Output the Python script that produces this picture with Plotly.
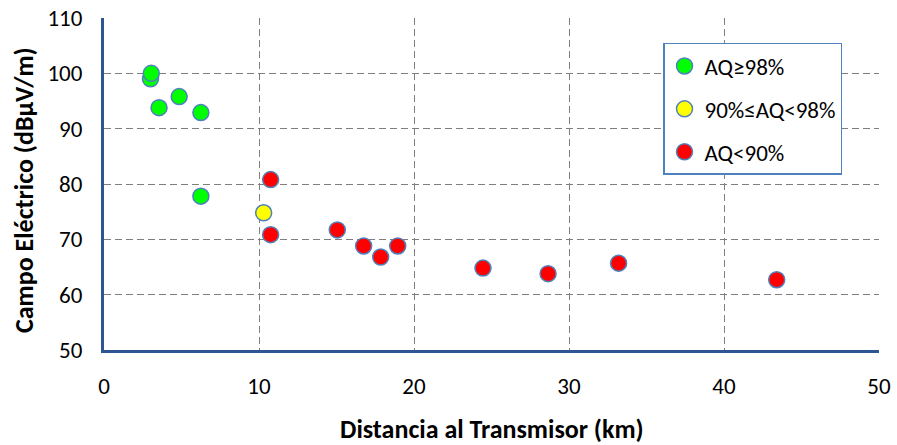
import plotly.graph_objects as go

# Data
green_x = [3.0, 3.05, 3.55, 4.85, 6.25, 6.25]
green_y = [99.0, 100.0, 93.8, 95.8, 92.9, 77.8]
yellow_x = [10.3]
yellow_y = [74.8]
red_x = [10.75, 10.75, 15.05, 16.75, 17.85, 18.95, 24.45, 28.65, 33.2, 43.4]
red_y = [80.8, 70.85, 71.7, 68.8, 66.8, 68.8, 64.8, 63.8, 65.7, 62.7]

series_names = ["AQ≥98%", "90%≤AQ<98%", "AQ<90%"]
series_colors = ["#00FF00", "#FFFF00", "#FF0000"]

x_title = "Distancia al Transmisor (km)"
y_title = "Campo Eléctrico (dBµV/m)"

FONT = "Carlito, Lato, 'Liberation Sans', sans-serif"

fig = go.Figure()
for i, (xs, ys) in enumerate([(green_x, green_y), (yellow_x, yellow_y), (red_x, red_y)]):
    fig.add_trace(go.Scatter(
        x=xs, y=ys, mode="markers", name=series_names[i],
        legendgroup=f"g{i}",
        marker=dict(size=16, color=series_colors[i],
                    line=dict(color="#4F81BD", width=1.5)),
    ))

axis_common = dict(
    showgrid=True, gridcolor="#7F7F7F", gridwidth=1.4, griddash="7px,4px",
    zeroline=False, showline=True, linecolor="#2C5593", linewidth=3,
    ticks="", automargin=False,
    tickfont=dict(family=FONT, size=23, color="#000000"),
)

fig.update_xaxes(range=[0, 50], dtick=10, tick0=0, ticklabelstandoff=13, **axis_common)
fig.update_yaxes(range=[50, 110], dtick=10, tick0=50, ticklabelstandoff=14, **axis_common)

fig.update_layout(
    width=897, height=445,
    margin=dict(l=104, r=18, t=18, b=95, autoexpand=False),
    paper_bgcolor="white", plot_bgcolor="white",
    showlegend=True,
    legend=dict(
        x=0.7213, y=0.9247, xanchor="left", yanchor="top",
        bgcolor="white", bordercolor="#4F81BD", borderwidth=1.5,
        font=dict(family=FONT, size=23, color="#000000"),
        tracegroupgap=10, itemsizing="trace",
    ),
    annotations=[
        dict(text=f"<b>{x_title}</b>", xref="paper", yref="paper",
             x=0.5, y=0, yshift=-79, showarrow=False,
             xanchor="center", yanchor="middle",
             font=dict(family=FONT, size=26, color="#000000")),
        dict(text=f"<b>{y_title}</b>", xref="paper", yref="paper",
             x=0, xshift=-80, y=0.5, yshift=-6, showarrow=False, textangle=-90,
             xanchor="center", yanchor="middle",
             font=dict(family=FONT, size=26, color="#000000")),
    ],
)

fig.write_html("out.html", config={"displayModeBar": False},
               post_script="document.body.style.margin='0';document.body.style.overflow='hidden';")
